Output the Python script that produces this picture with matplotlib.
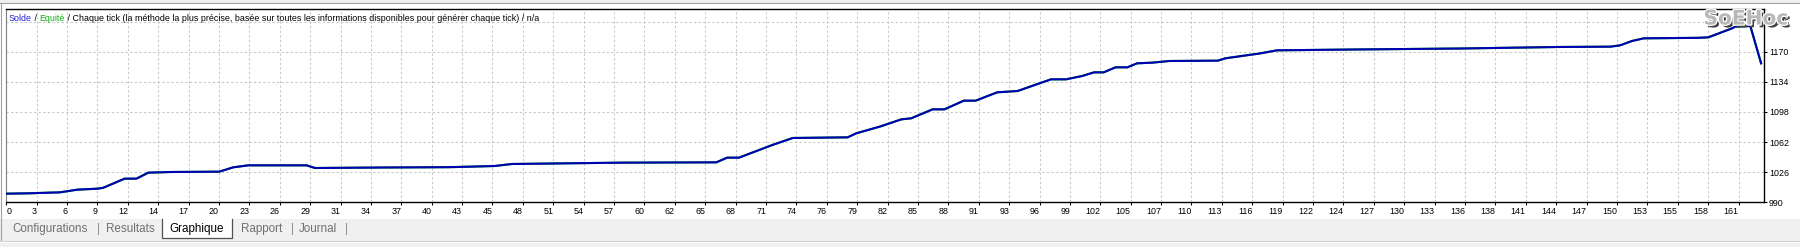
import matplotlib
matplotlib.use('Agg')
import matplotlib.pyplot as plt
import matplotlib.patheffects as pe
from matplotlib.patches import Rectangle
from matplotlib.lines import Line2D

# balance curve (trade number, account balance)
trade_no = [0, 2.0, 5.0, 6.6, 8.5, 9.0, 11.0, 12.1, 13.2, 15.3, 19.8, 21.1, 22.5,
            27.9, 28.7, 35.1, 41.2, 43.1, 45.4, 47.0, 57.1, 66.0, 67.0, 68.1,
            71.2, 73.1, 78.2, 79.0, 81.2, 83.2, 84.1, 86.1, 87.2, 89.0, 90.1,
            92.1, 94.0, 97.1, 98.5, 100.0, 101.1, 102.0, 103.1, 104.2, 105.1,
            106.5, 108.1, 112.6, 113.3, 115.7, 116.4, 118.1, 125.2, 135.2,
            144.2, 149.1, 150.0, 151.1, 152.2, 157.2, 158.2, 160.4, 160.7,
            162.1, 163.1]
balance = [1000, 1000.4, 1001.6, 1004.8, 1006, 1007, 1018, 1018, 1025.2, 1026,
           1026.4, 1031.6, 1034, 1034, 1030.8, 1031.4, 1031.8, 1032.4, 1033.2,
           1035.6, 1037.2, 1037.6, 1043.2, 1043.2, 1058.4, 1066.8, 1067.6,
           1072.4, 1080.5, 1089.2, 1090.4, 1101.2, 1101.2, 1111.6, 1111.6,
           1121.6, 1123.2, 1137.2, 1137.2, 1141.2, 1145.6, 1145.6, 1151.6,
           1151.6, 1156.4, 1157.2, 1159.2, 1159.6, 1162.4, 1166.8, 1168, 1172,
           1173, 1174.2, 1176, 1176.4, 1178, 1183.2, 1186.4, 1187, 1187.6,
           1198.4, 1200.4, 1201.2, 1156.4]
equity = balance

x_labels = [0, 3, 6, 9, 12, 14, 17, 20, 23, 26, 29, 31, 34, 37, 40, 43, 45, 48,
            51, 54, 57, 60, 62, 65, 68, 71, 74, 76, 79, 82, 85, 88, 91, 93, 96,
            99, 102, 105, 107, 110, 113, 116, 119, 122, 124, 127, 130, 133, 136,
            138, 141, 144, 147, 150, 153, 155, 158, 161]
y_ticks = [990, 1026, 1062, 1098, 1134, 1170, 1206]
tabs = ['Configurations', 'Resultats', 'Graphique', 'Rapport', 'Journal']
tab_x = [50, 130, 197, 262, 318]
sep_x = [98, 292, 347]
active_tab = 'Graphique'

W, H = 1800, 247


def fx(px):
    return px / W


def fy(py):
    return 1 - py / H


plt.rcParams['font.family'] = ['Liberation Sans', 'DejaVu Sans']

fig = plt.figure(figsize=(W / 100, H / 100), dpi=100)
fig.patch.set_facecolor('white')

# window chrome: grey strip on top, tab bar at the bottom
fig.add_artist(Rectangle((0, fy(3)), 1, 3 / H, transform=fig.transFigure,
                         facecolor='#f0f0f0', edgecolor='none', zorder=0))
fig.add_artist(Line2D([0, 1], [fy(3.5)] * 2, transform=fig.transFigure,
                      color='#a0a0a0', lw=0.8))
fig.add_artist(Line2D([fx(1), fx(1)], [fy(3.5), fy(240)], transform=fig.transFigure,
                      color='#a0a0a0', lw=0.8))
fig.add_artist(Rectangle((0, 0), 1, fy(219), transform=fig.transFigure,
                         facecolor='#f0f0f0', edgecolor='none', zorder=0))
fig.add_artist(Line2D([0, 1], [fy(240.5)] * 2, transform=fig.transFigure,
                      color='#d0d0d0', lw=0.8))
fig.add_artist(Line2D([0, 1], [fy(241.5)] * 2, transform=fig.transFigure,
                      color='white', lw=0.8))

# active tab: white box open at the top
fig.add_artist(Rectangle((fx(162), fy(238)), 70 / W, 20 / H, transform=fig.transFigure,
                         facecolor='white', edgecolor='none', zorder=1))
fig.add_artist(Line2D([fx(162), fx(162), fx(232), fx(232)],
                      [fy(219), fy(238), fy(238), fy(219)],
                      transform=fig.transFigure, color='#505050', lw=0.9, zorder=2))
for name, px in zip(tabs, tab_x):
    fig.text(fx(px), fy(228.5), name, ha='center', va='center', fontsize=8.4,
             color='black' if name == active_tab else '#707070', zorder=3)
for px in sep_x:
    fig.text(fx(px), fy(228.5), '|', ha='center', va='center', fontsize=8.4,
             color='#909090', zorder=3)

ax = fig.add_axes([fx(5.5), fy(202), (1764 - 5.5) / W, (202 - 9) / H])
ax.set_facecolor('white')
ax.plot(trade_no, equity, color='#00b400', lw=1.5, zorder=3)
ax.plot(trade_no, balance, color='#0000b4', lw=1.5, zorder=4,
        solid_joinstyle='round')
ax.set_xlim(-0.07, 163.37)
ax.set_ylim(990, 1221.6)

step = x_labels[-1] / (len(x_labels) - 1)
ax.set_xticks([i * step for i in range(len(x_labels))])
ax.set_xticklabels([str(v) for v in x_labels])
ax.set_yticks(y_ticks)
ax.set_yticklabels([str(v) for v in y_ticks])
ax.yaxis.tick_right()
ax.tick_params(axis='both', length=2, width=0.75, labelsize=6.4, pad=1.5,
               colors='black')
for i, lbl in enumerate(ax.get_xticklabels()):
    lbl.set_ha('left' if i == 0 else 'right')
ax.grid(True, color='#c8c8c8', linestyle=(0, (2.2, 2.2)), lw=0.75)
for side in ['top', 'right', 'bottom']:
    ax.spines[side].set_color('black')
    ax.spines[side].set_linewidth(1.0)
ax.spines['left'].set_color('#808080')
ax.spines['left'].set_linewidth(0.8)

# header line: coloured pieces chained one after another
parts = [('Solde', '#2020d0'), (' / ', 'black'), ('Equité', '#10b010'),
         (' / Chaque tick (la méthode la plus précise, basée sur toutes les '
          'informations disponibles pour générer chaque tick) / n/a', 'black')]
prev = fig.text(fx(9), fy(21), parts[0][0], color=parts[0][1], fontsize=6.4,
                va='baseline', ha='left', zorder=5)
for txt, col in parts[1:]:
    prev = ax.annotate(txt, xy=(1, 0), xycoords=prev, xytext=(0, 0),
                       textcoords='offset points', color=col, fontsize=6.4,
                       va='bottom', ha='left', annotation_clip=False, zorder=5)

# watermark in the top right corner
fig.text(fx(1746), fy(19), 'SoEHoc', fontsize=14.5, fontweight='bold',
         family='DejaVu Sans', color='#b8b8b8', ha='center', va='center', zorder=10,
         path_effects=[pe.withSimplePatchShadow(offset=(2, -2),
                                                shadow_rgbFace='#404040', alpha=1.0),
                       pe.withStroke(linewidth=1.8, foreground='white')])

fig.savefig('out.png', dpi=100, facecolor=fig.get_facecolor())
